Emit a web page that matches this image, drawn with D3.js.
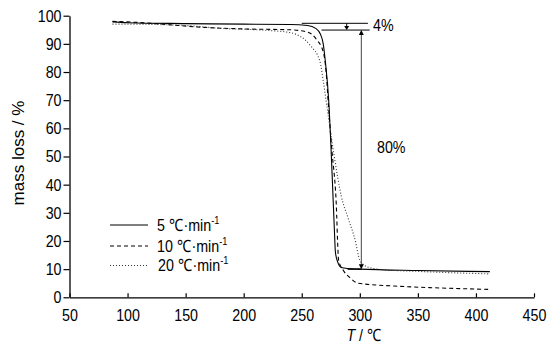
<!DOCTYPE html>
<html><head><meta charset="utf-8">
<script src="https://cdn.jsdelivr.net/npm/d3@7/dist/d3.min.js"></script>
<style>
html,body{margin:0;padding:0;background:#fff;}
text{font-family:"Liberation Sans",Arial,sans-serif;}
.nar{transform-box:fill-box;transform:scaleX(0.84);}
.nar-s{transform-origin:left center;}
.nar-m{transform-origin:center center;}
.nar-e{transform-origin:right center;}
</style></head>
<body>
<svg id="chart" width="554" height="344"></svg>
<script>
// ---- data ----
const xTicks = [50,100,150,200,250,300,350,400,450];
const yTicks = [0,10,20,30,40,50,60,70,80,90,100];
const seriesNames = ["5 ℃·min", "10 ℃·min", "20 ℃·min"];
// 5 ℃/min
const T5 = [87,100,150,200,240,255,262,266,268.5,270,273.5,275,277,278,279,281,284,290,300,350,412];
const M5 = [97.8,97.5,97.2,97.0,96.9,96.5,95.5,93.5,90,85,68,55,35,25,16,12.5,10.6,10.2,10.0,9.5,9.1];
// 10 ℃/min
const T10 = [87,100,130,160,200,240,255,263,268.6,271,273,276,279.5,281.8,285.6,291.6,298.5,330,370,412];
const M10 = [98.0,97.8,97.0,96.0,95.3,95.0,94.2,91.4,87,80,68,52,35,13,9.7,6.9,5.0,4.0,3.3,2.8];
// 20 ℃/min
const T20 = [87,100,150,180,220,240,257,265.7,268.6,271.5,278,284,290,296,300,306,320,350,412];
const M20 = [97.0,97.0,96.5,95.5,94.8,94.0,89.6,83.7,76.6,68.3,50,36,28,20.3,13.2,10.9,9.8,9.2,8.3];
// annotation values
const annTop = 97.3, annMid = 94.9, annBot = 10.0;
const annLabels = ["4%", "80%"];

// ---- layout ----
const svg = d3.select("#chart");
const x = d3.scaleLinear().domain([50,450]).range([69.5,534]);
const y = d3.scaleLinear().domain([0,100]).range([297.3,15.7]);
const fs = 17;
function narrow(sel, a){ sel.classed("nar",true).classed("nar-"+a,true); return sel; }

// axes
const yAxis = d3.axisLeft(y).tickValues(yTicks).tickSize(6).tickPadding(2).tickSizeOuter(0);
const gy = svg.append("g").attr("transform",`translate(${x(50)},0)`).call(yAxis);
const xAxis = d3.axisBottom(x).tickValues(xTicks).tickSize(-4).tickPadding(12).tickSizeOuter(0);
const gx = svg.append("g").attr("transform",`translate(0,${y(0)})`).call(xAxis);
[gx,gy].forEach(g=>{
  g.select(".domain").attr("stroke","#000").attr("stroke-width",1.3);
  g.selectAll(".tick line").attr("stroke","#000").attr("stroke-width",1.2);
  g.selectAll(".tick text").attr("font-size",fs).attr("fill","#000")
    .attr("font-family",'"Liberation Sans",Arial,sans-serif');
});
narrow(gy.selectAll(".tick text"),"e");
narrow(gx.selectAll(".tick text"),"m");

// axis titles
svg.append("text").attr("transform","translate(24,153) rotate(-90)")
  .attr("text-anchor","middle").attr("font-size",fs).text("mass loss / %");
const xt = narrow(svg.append("text").attr("x",364).attr("y",341).attr("text-anchor","middle").attr("font-size",fs),"m");
xt.append("tspan").attr("font-style","italic").text("T");
xt.append("tspan").text(" / ℃");

// series
const line = d3.line().x(d=>x(d[0])).y(d=>y(d[1])).curve(d3.curveMonotoneX);
const sets = [
  {T:T5, M:M5, dash:null, color:"#000", w:1.1},
  {T:T10, M:M10, dash:"4,3", color:"#000", w:1.1},
  {T:T20, M:M20, dash:"1,2", color:"#333", w:1.1}
];
sets.forEach(s=>{
  svg.append("path").datum(s.T.map((t,i)=>[t,s.M[i]]))
    .attr("d",line).attr("fill","none").attr("stroke",s.color)
    .attr("stroke-width",s.w).attr("stroke-dasharray",s.dash);
});

// annotations
const ann = svg.append("g").attr("stroke","#000").attr("stroke-width",1);
ann.append("line").attr("x1",x(250)).attr("x2",x(307)).attr("y1",y(annTop)).attr("y2",y(annTop));
ann.append("line").attr("x1",x(267)).attr("x2",x(308.5)).attr("y1",y(annMid)).attr("y2",y(annMid));
ann.append("line").attr("x1",x(289.5)).attr("x2",x(301.3)).attr("y1",y(annBot)).attr("y2",y(annBot)).attr("stroke-width",1.4);
// small 4% arrow
const ax1 = x(288.7);
ann.append("line").attr("x1",ax1).attr("x2",ax1).attr("y1",y(annTop)).attr("y2",y(annMid)-3);
svg.append("path").attr("d",`M${ax1-2.5},${y(annMid)-4}L${ax1+2.5},${y(annMid)-4}L${ax1},${y(annMid)}Z`).attr("fill","#000");
// 80% arrow
const ax2 = x(301.3);
ann.append("line").attr("x1",ax2).attr("x2",ax2).attr("y1",y(annMid)+4).attr("y2",y(annBot)-4).attr("stroke","#444");
svg.append("path").attr("d",`M${ax2-2.5},${y(annMid)+5}L${ax2+2.5},${y(annMid)+5}L${ax2},${y(annMid)}Z`).attr("fill","#000");
svg.append("path").attr("d",`M${ax2-2.5},${y(annBot)-5}L${ax2+2.5},${y(annBot)-5}L${ax2},${y(annBot)}Z`).attr("fill","#000");
narrow(svg.append("text").attr("x",373).attr("y",31).attr("font-size",fs).text(annLabels[0]),"s");
narrow(svg.append("text").attr("x",377).attr("y",153).attr("font-size",fs).text(annLabels[1]),"s");

// legend
const legY = [225,246,265.5];
seriesNames.forEach((n,i)=>{
  svg.append("line").attr("x1",110).attr("x2",148).attr("y1",legY[i]).attr("y2",legY[i])
    .attr("stroke",sets[i].color).attr("stroke-width",1).attr("stroke-dasharray",sets[i].dash);
  const t = narrow(svg.append("text").attr("x",157+ (i==2?1:0)).attr("y",legY[i]+6).attr("font-size",fs),"s");
  t.append("tspan").text(n);
  t.append("tspan").attr("font-size",11).attr("dy",-7).text("-1");
});
</script>
</body></html>
